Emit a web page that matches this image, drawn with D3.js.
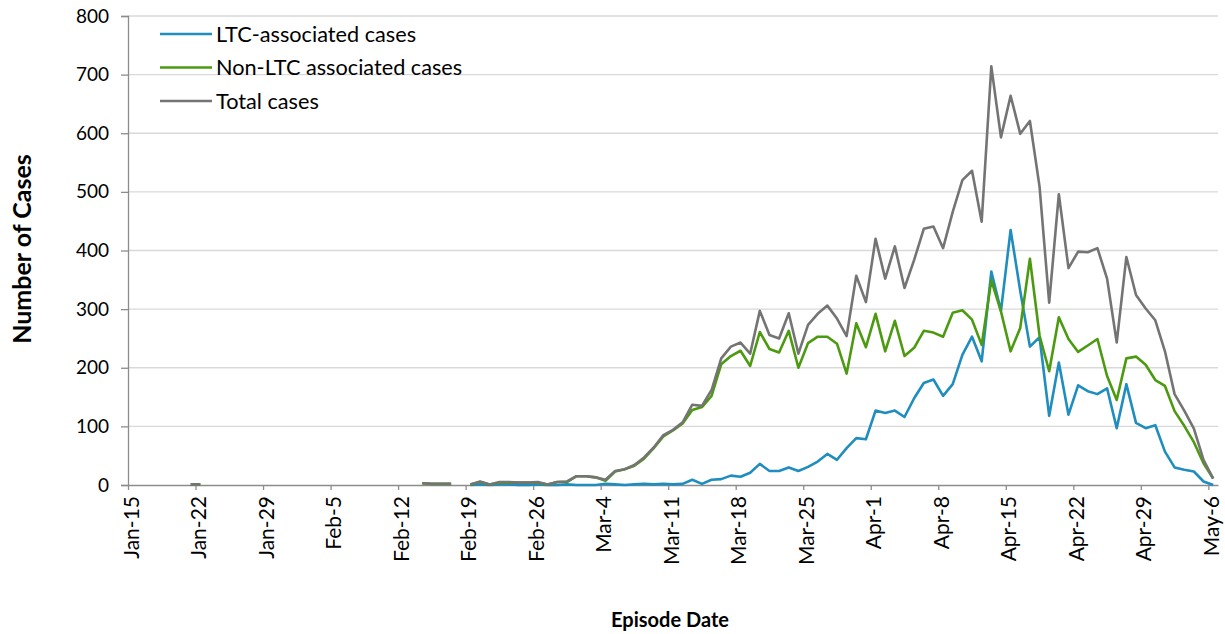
<!DOCTYPE html>
<html>
<head>
<meta charset="utf-8">
<script src="https://cdn.jsdelivr.net/npm/d3@7/dist/d3.min.js"></script>
<style>
  html, body { margin: 0; padding: 0; background: #fff; }
  svg { display: block; }
  text { font-family: Lato, "Open Sans", sans-serif; fill: #000; }
</style>
</head>
<body>
<svg id="chart" width="1225" height="634"></svg>
<script>
// ---- Data (daily, Jan 15 .. May 6, 2020) ----
const startDate = "2020-01-15";
const endDate = "2020-05-06";

const ltcCases = [
  null,null,null,null,null,null,null,null,null,null,
  null,null,null,null,null,null,null,null,null,null,
  null,null,null,null,null,null,null,null,null,null,
  null,null,null,null,null,0,1,0,1,1,
  0,0,1,0,0,1,0,0,0,2,
  1,0,1,2,1,2,1,2,9,2,
  9,10,16,14,21,36,24,24,30,24,
  31,40,53,43,63,80,78,127,123,127,
  116,148,174,180,152,172,222,253,211,364,
  297,435,331,236,252,118,209,120,170,160,
  155,165,97,172,106,97,102,57,30,26,
  23,6,0
];

const nonLtcCases = [
  null,null,null,null,null,null,1,1,null,null,
  null,null,null,null,null,null,null,null,null,null,
  null,null,null,null,null,null,null,null,null,null,
  3,2,2,2,null,1,5,1,4,4,
  4,4,4,1,5,5,15,15,13,7,
  23,27,33,45,63,83,93,105,128,133,
  152,206,220,229,203,261,232,226,263,200,
  242,253,253,241,190,276,235,292,228,280,
  220,234,263,260,253,294,298,282,239,349,
  296,228,268,386,255,194,286,249,227,238,
  249,186,145,216,219,205,179,169,126,101,
  73,37,11
];

const totalCases = [
  null,null,null,null,null,null,1,1,null,null,
  null,null,null,null,null,null,null,null,null,null,
  null,null,null,null,null,null,null,null,null,null,
  3,2,2,2,null,1,6,1,5,5,
  4,4,5,1,5,6,15,15,13,9,
  24,27,34,47,64,85,94,107,137,135,
  162,216,236,243,224,297,256,250,293,224,
  273,292,306,284,254,357,312,420,352,407,
  336,384,437,441,404,466,520,536,449,714,
  593,664,599,621,509,311,496,370,398,397,
  404,352,243,389,324,301,281,228,155,127,
  96,43,11
];

const tickLabels = ["Jan-15","Jan-22","Jan-29","Feb-5","Feb-12","Feb-19","Feb-26",
  "Mar-4","Mar-11","Mar-18","Mar-25","Apr-1","Apr-8","Apr-15","Apr-22","Apr-29","May-6"];
const yTicks = [0,100,200,300,400,500,600,700,800];

const seriesNames = ["LTC-associated cases","Non-LTC associated cases","Total cases"];
const seriesColors = ["#1f8dbd","#4b9a10","#747474"];

// ---- Layout ----
const svg = d3.select("#chart");
const mLeft = 128, mRight = 1218, mTop = 16, mBottom = 485;

const parse = d3.timeParse("%Y-%m-%d");
const d0 = parse(startDate);
const dEnd = parse(endDate);
const dates = d3.timeDay.range(d0, d3.timeDay.offset(dEnd, 1));

const x = d3.scaleTime()
  .domain([d0, d3.timeDay.offset(dEnd, 1)])
  .range([mLeft, mRight]);
const y = d3.scaleLinear().domain([0, 800]).range([mBottom, mTop]);

// point at the middle of each day
const px = i => x(d3.timeHour.offset(dates[i], 12));

// gridlines
svg.append("g")
  .selectAll("line")
  .data(yTicks.filter(v => v > 0))
  .join("line")
  .attr("x1", mLeft).attr("x2", mRight)
  .attr("y1", d => y(d)).attr("y2", d => y(d))
  .attr("stroke", "#d9d9d9").attr("stroke-width", 1.3);

// Y axis
const yAxis = svg.append("g")
  .attr("transform", `translate(${mLeft},0)`)
  .call(d3.axisLeft(y).tickValues(yTicks).tickSize(7).tickPadding(12).tickFormat(d3.format("d")));
yAxis.select(".domain").attr("stroke", "#8c8c8c").attr("stroke-width", 1.3);
yAxis.selectAll(".tick line").attr("stroke", "#8c8c8c").attr("stroke-width", 1.3);
yAxis.selectAll(".tick text")
  .style("font-family", "Lato, sans-serif")
  .style("font-size", "19px")
  .attr("fill", "#000");

// X axis
const tickDates = tickLabels.map((t, i) => d3.timeDay.offset(d0, i * 7));
const xAxis = svg.append("g")
  .attr("transform", `translate(0,${mBottom})`)
  .call(d3.axisBottom(x).tickValues(tickDates).tickSize(5).tickSizeOuter(0)
        .tickFormat((d, i) => tickLabels[i]));
xAxis.select(".domain").attr("stroke", "#8c8c8c").attr("stroke-width", 1.3);
xAxis.selectAll(".tick line").attr("stroke", "#8c8c8c").attr("stroke-width", 1.3);
xAxis.selectAll(".tick text")
  .style("font-family", "Lato, sans-serif")
  .style("font-size", "21px")
  .attr("fill", "#000")
  .attr("text-anchor", "end")
  .attr("transform", "rotate(-90)")
  .attr("x", -11)
  .attr("y", 0)
  .attr("dy", "0.48em");

// Lines
const seriesData = [ltcCases, nonLtcCases, totalCases];
const line = d3.line()
  .defined(d => d.v !== null)
  .x(d => px(d.i))
  .y(d => y(d.v));

seriesData.forEach((arr, k) => {
  svg.append("path")
    .datum(arr.map((v, i) => ({ i, v })))
    .attr("fill", "none")
    .attr("stroke", seriesColors[k])
    .attr("stroke-width", 2.6)
    .attr("stroke-linejoin", "round")
    .attr("d", line);
});

// Legend
const legend = svg.append("g");
seriesNames.forEach((name, k) => {
  const ly = 34 + k * 33.5;
  legend.append("line")
    .attr("x1", 160).attr("x2", 212)
    .attr("y1", ly).attr("y2", ly)
    .attr("stroke", seriesColors[k]).attr("stroke-width", 2.6);
  legend.append("text")
    .attr("x", 216).attr("y", ly)
    .attr("dy", "0.35em")
    .style("font-size", "21.7px")
    .text(name);
});

// Axis titles
svg.append("text")
  .attr("transform", `translate(31,249) rotate(-90)`)
  .attr("text-anchor", "middle")
  .style("font-size", "25px")
  .style("font-weight", "bold")
  .text("Number of Cases");

svg.append("text")
  .attr("x", 670).attr("y", 627)
  .attr("text-anchor", "middle")
  .style("font-size", "20px")
  .style("font-weight", "bold")
  .text("Episode Date");
</script>
</body>
</html>
